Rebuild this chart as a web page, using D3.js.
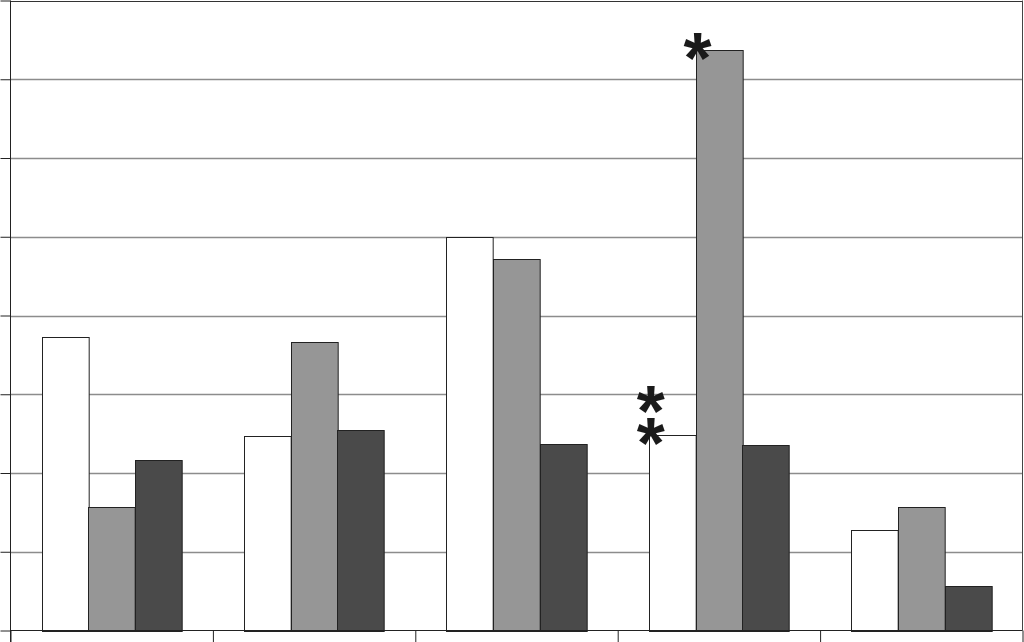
<!DOCTYPE html>
<html><head><meta charset="utf-8">
<script src="https://cdn.jsdelivr.net/npm/d3@7"></script>
<style>html,body{margin:0;padding:0;background:#fff;overflow:hidden}svg{display:block}</style>
</head><body>
<svg id="chart" width="1024" height="642"></svg>
<script>
const categories = ["G1", "G2", "G3", "G4", "G5"];
const seriesNames = ["A", "B", "C"];
const seriesA = [3.73, 2.47, 5.00, 2.48, 1.27];
const seriesB = [1.57, 3.66, 4.72, 7.37, 1.57];
const seriesC = [2.17, 2.55, 2.37, 2.35, 0.56];
const yTicks = [0, 1, 2, 3, 4, 5, 6, 7, 8];
const annotations = [
  {cat: "G4", series: "B", label: ["*"]},
  {cat: "G4", series: "A", label: ["*", "*"]}
];
const colors = {A: "#ffffff", B: "#969696", C: "#4a4a4a"};

const svg = d3.select("#chart");
const mLeft = 10.5, mRight = 1022.5, mTop = 0.5, mBottom = 630.5;

const y = d3.scaleLinear().domain([0, 8]).range([mBottom, mTop]);
const x = d3.scaleBand().domain(categories).range([mLeft, mRight]).paddingInner(0.308).paddingOuter(0.154);
const xs = d3.scaleBand().domain(seriesNames).range([0, x.bandwidth()]).padding(0);
const bounds = d3.scaleLinear().domain([0, 5]).range([mLeft, mRight]);

const values = {A: seriesA, B: seriesB, C: seriesC};
const data = [];
categories.forEach((c, i) => seriesNames.forEach(s => data.push({cat: c, series: s, value: values[s][i]})));

// gridlines
svg.append("g").selectAll("line").data(yTicks.slice(1)).join("line")
  .attr("x1", mLeft).attr("x2", mRight)
  .attr("y1", d => Math.round(y(d)) + 0.5).attr("y2", d => Math.round(y(d)) + 0.5)
  .attr("stroke", d => d === 8 ? "#333" : "#8c8c8c").attr("stroke-width", d => d === 8 ? 1 : 1.3);

// right border
svg.append("line").attr("x1", mRight).attr("x2", mRight).attr("y1", mTop).attr("y2", mBottom).attr("stroke", "#444");

// bars
svg.append("g").selectAll("rect").data(data).join("rect")
  .attr("x", d => Math.round(x(d.cat) + xs(d.series)) + 0.5)
  .attr("width", xs.bandwidth())
  .attr("y", d => Math.round(y(d.value)) + 0.5)
  .attr("height", d => Math.round(y(0)) - Math.round(y(d.value)))
  .attr("fill", d => colors[d.series])
  .attr("stroke", "#222").attr("stroke-width", 1);

// left axis
const yAxis = svg.append("g").attr("transform", `translate(${mLeft},0)`)
  .call(d3.axisLeft(y).tickValues(yTicks).tickSize(10).tickFormat(""));
yAxis.select(".domain").attr("d", `M0,${mTop}V642`);
yAxis.selectAll("line, path").attr("stroke", "#222");

// bottom axis
const xAxis = svg.append("g").attr("transform", `translate(0,${mBottom})`)
  .call(d3.axisBottom(bounds).tickValues([0, 1, 2, 3, 4, 5]).tickSize(12).tickFormat(""));
xAxis.select(".domain").attr("d", `M${mLeft},0H${mRight}`);
xAxis.selectAll("line, path").attr("stroke", "#222");

// annotations (stacked asterisks in one text element)
const fs = 72, lineGap = 32;
annotations.forEach(a => {
  const i = categories.indexOf(a.cat);
  const v = values[a.series][i];
  const cx = x(a.cat) + xs(a.series) + 2;
  const n = a.label.length;
  const t = svg.append("text")
    .attr("x", cx)
    .attr("y", y(v) + 0.40 * fs + 4 - (n - 1) * lineGap)
    .attr("text-anchor", "middle")
    .attr("font-family", "Liberation Sans, Arial, sans-serif")
    .attr("font-weight", "bold")
    .attr("font-size", fs)
    .attr("fill", "#1a1a1a");
  a.label.forEach((s, k) => {
    t.append("tspan").attr("x", cx).attr("dy", k === 0 ? 0 : lineGap).text(s);
  });
});
</script>
</body></html>
